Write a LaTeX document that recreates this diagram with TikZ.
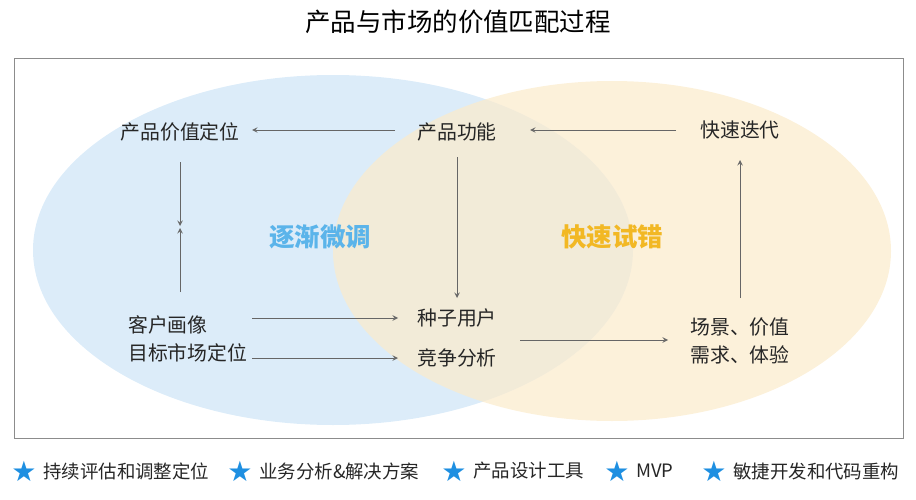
\documentclass[tikz,border=0pt]{standalone}
\usepackage{fontspec}
\setmainfont{Noto Sans CJK SC}
\newfontfamily\symfont{DejaVu Sans}
\usetikzlibrary{arrows, positioning}
\definecolor{skyblue}{HTML}{D6E9F8}
\definecolor{sand}{HTML}{FBEBCB}
\definecolor{tuneblue}{HTML}{5BB4EA}
\definecolor{trialgold}{HTML}{F2B824}
\definecolor{starblue}{HTML}{1E8FE1}
\tikzstyle{label} = [font=\fontsize{11.3}{14}\selectfont, text=black!85, align=left]
\tikzstyle{phase} = [font=\fontsize{14.5}{18}\selectfont\bfseries]
\tikzstyle{legend} = [font=\fontsize{10.5}{13}\selectfont, text=black!85]
\tikzstyle{arrow} = [draw=black!60, ->, >=stealth, thin]
\begin{document}
\begin{tikzpicture}[x=0.02cm, y=-0.02cm]
\useasboundingbox (0,0) rectangle (916,500);
% frame and circles
\draw[black!45] (14,58) rectangle (903,438);
\fill[skyblue, opacity=0.85] (333,250) ellipse [x radius=300, y radius=175];
\fill[sand, opacity=0.7] (612,251) ellipse [x radius=279, y radius=170];
\node[font=\fontsize{14.5}{18}\selectfont] (title) at (458,22) {产品与市场的价值匹配过程};
% nodes
\node[label] (posit) at (180,132) {产品价值定位};
\node[label] (feature) at (457,132) {产品功能};
\node[label] (iterate) at (740,130) {快速迭代};
\node[phase, text=tuneblue] (tune) at (320,237) {逐渐微调};
\node[phase, text=trialgold] (trial) at (612,237) {快速试错};
\node[label, anchor=west] (persona) at (122,325) {客户画像};
\node[label, anchor=west] (market) at (122,353) {目标市场定位};
\node[label] (seed) at (457,318) {种子用户};
\node[label] (compete) at (457,358) {竞争分析};
\node[label] (scene) at (740,327) {场景、价值};
\node[label] (need) at (740,355) {需求、体验};
\coordinate (meet) at (180,226);
% connectors
\draw[arrow] (395,130) -- (252,130);
\draw[arrow] (676,130) -- (530,130);
\draw[arrow] (180,162) -- (meet);
\draw[arrow] (180,292) -- (180,228);
\draw[arrow] (457,157) -- (457,298);
\draw[arrow] (252,318) -- (398,318);
\draw[arrow] (252,358) -- (398,358);
\draw[arrow] (520,340) -- (668,340);
\draw[arrow] (740,298) -- (740,160);
% legend
\foreach \x/\t in {37/持续评估和调整定位, 253/业务分析\&解决方案, 467/产品设计工具, 630/MVP, 727/敏捷开发和代码重构}{
  \node[text=starblue, font=\symfont\fontsize{16}{16}\selectfont] at (\x-13,471) {★};
  \node[legend, anchor=west] at (\x,471) {\t};
}
\end{tikzpicture}
\end{document}
